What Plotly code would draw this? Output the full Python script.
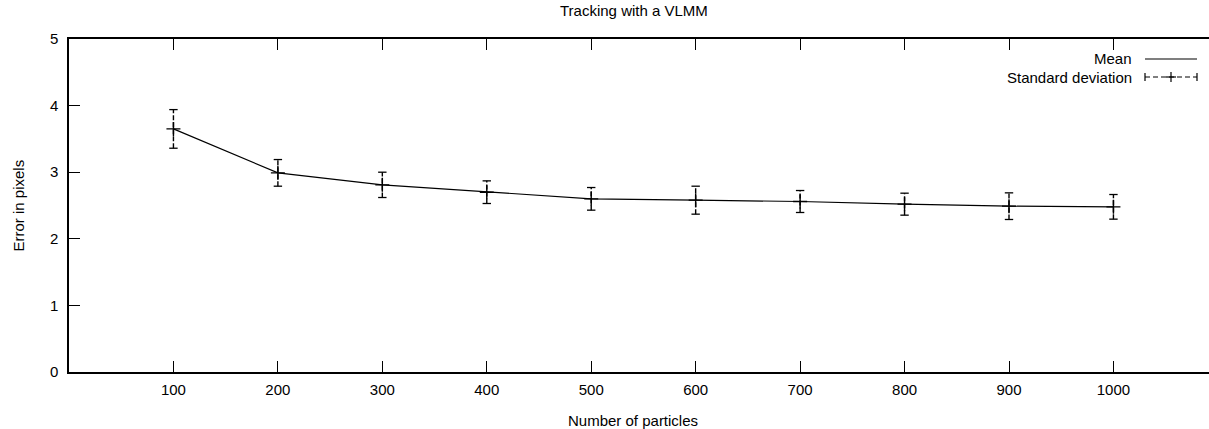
import plotly.graph_objects as go

# ---- data ----
particles = [100, 200, 300, 400, 500, 600, 700, 800, 900, 1000]
mean_err = [3.65, 2.99, 2.81, 2.70, 2.60, 2.58, 2.56, 2.52, 2.49, 2.48]
std_err = [0.29, 0.20, 0.19, 0.17, 0.17, 0.21, 0.165, 0.165, 0.20, 0.185]
x_ticks = [100, 200, 300, 400, 500, 600, 700, 800, 900, 1000]
y_ticks = [0, 1, 2, 3, 4, 5]

FONT = "Liberation Sans, Arial, Helvetica, sans-serif"
W, H = 1209, 429
ML, MR, MT, MB = 69, 0, 39, 57
PW, PH = W - ML - MR, H - MT - MB


def px(xp):
    return (xp - ML) / PW


def py(yp):
    return (H - MB - yp) / PH


# build error segments from data arrays
seg_x, seg_y = [], []
for xv, m, s in zip(particles, mean_err, std_err):
    seg_x += [xv, xv, None]
    seg_y += [m - s, m + s, None]
cap_x = particles + particles
cap_y = [m + s for m, s in zip(mean_err, std_err)] + [m - s for m, s in zip(mean_err, std_err)]

fig = go.Figure()
fig.add_trace(go.Scatter(x=particles, y=mean_err, mode="lines", name="Mean",
                         line=dict(color="black", width=1.2), showlegend=False))
fig.add_trace(go.Scatter(x=seg_x, y=seg_y, mode="lines", name="Standard deviation",
                         line=dict(color="black", width=1.4, dash="5px,2px"), showlegend=False))
fig.add_trace(go.Scatter(x=cap_x, y=cap_y, mode="markers", showlegend=False,
                         marker=dict(symbol="line-ew", size=6, line=dict(color="black", width=1.3))))
fig.add_trace(go.Scatter(x=particles, y=mean_err, mode="markers", showlegend=False,
                         marker=dict(symbol="cross-thin", size=10, line=dict(color="black", width=1.4))))

annotations = [
    dict(text="Tracking with a VLMM", x=px(634), y=py(11), xref="paper", yref="paper",
         showarrow=False, xanchor="center", yanchor="middle", font=dict(size=15)),
    dict(text="Number of particles", x=px(633), y=py(421), xref="paper", yref="paper",
         showarrow=False, xanchor="center", yanchor="middle", font=dict(size=15)),
    dict(text="Error in pixels", x=px(18), y=0.5, xref="paper", yref="paper", textangle=-90,
         showarrow=False, xanchor="center", yanchor="middle", font=dict(size=15)),
    dict(text="Mean", x=px(1134), y=py(59), xref="paper", yref="paper",
         showarrow=False, xanchor="right", yanchor="middle", font=dict(size=15)),
    dict(text="Standard deviation", x=px(1134), y=py(77), xref="paper", yref="paper",
         showarrow=False, xanchor="right", yanchor="middle", font=dict(size=15)),
]

ln = dict(color="black", width=1.2)
shapes = [
    dict(type="line", xref="paper", yref="paper", x0=px(1145), x1=px(1197), y0=py(59), y1=py(59), line=ln),
    dict(type="line", xref="paper", yref="paper", x0=px(1145), x1=px(1197), y0=py(77), y1=py(77),
         line=dict(color="black", width=1.2, dash="5px,3px")),
    dict(type="line", xref="paper", yref="paper", x0=px(1145), x1=px(1145), y0=py(73), y1=py(81), line=ln),
    dict(type="line", xref="paper", yref="paper", x0=px(1197), x1=px(1197), y0=py(73), y1=py(81), line=ln),
    dict(type="line", xref="paper", yref="paper", x0=px(1171), x1=px(1171), y0=py(72), y1=py(82), line=ln),
    dict(type="line", xref="paper", yref="paper", x0=px(1166), x1=px(1176), y0=py(77), y1=py(77), line=ln),
]

fig.update_layout(
    width=W, height=H,
    margin=dict(l=ML, r=MR, t=MT, b=MB, pad=0),
    paper_bgcolor="white", plot_bgcolor="white",
    font=dict(family=FONT, size=15, color="black"),
    showlegend=False,
    annotations=annotations,
    shapes=shapes,
)
fig.update_xaxes(range=[0, PW / 1.04444], tickvals=x_ticks, ticks="inside", ticklen=11,
                 tickwidth=1.2, tickcolor="black", showline=True, linecolor="black", linewidth=1.5,
                 mirror="ticks", showgrid=False, zeroline=False, ticklabelstandoff=3,
                 tickfont=dict(size=15))
fig.update_yaxes(range=[0, 5], tickvals=y_ticks, ticks="inside", ticklen=11,
                 tickwidth=1.2, tickcolor="black", showline=True, linecolor="black", linewidth=1.5,
                 showgrid=False, zeroline=False, ticklabelstandoff=6, tickfont=dict(size=15))

fig.write_html("out.html")
